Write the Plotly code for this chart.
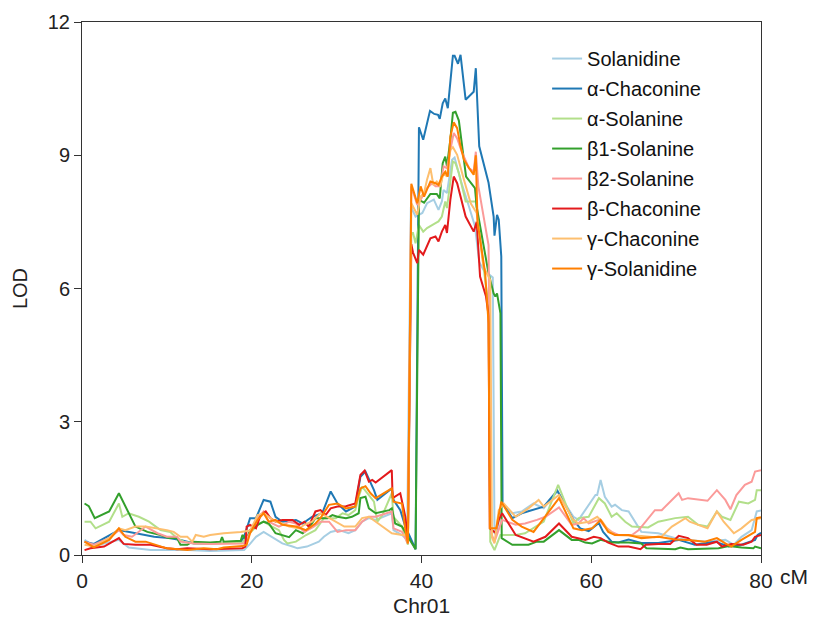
import plotly.graph_objects as go

# ---- data: (cM, LOD) pairs ----
solanidine = [(0.3,0.34),(1.4,0.20),(4.35,0.34),(5.5,0.17),(8.1,0.11),(10.4,0.11),(12.4,0.11),(15.1,0.09),(19.1,0.11),(19.8,0.25),(20.5,0.41),(21.4,0.52),(22.0,0.45),(22.8,0.34),(23.6,0.26),(24.8,0.19),(25.4,0.15),(26.5,0.19),(27.9,0.30),(28.5,0.41),(29.3,0.52),(30.3,0.56),(31.4,0.49),(32.2,0.56),(33.0,0.75),(33.8,0.83),(34.6,0.79),(36.5,0.94),(36.7,0.56),(37.7,0.45),(38.3,0.34),(38.75,7.84),(39.3,7.62),(40.1,7.70),(40.65,7.92),(41.45,8.00),(42.0,7.77),(42.4,7.96),(42.6,8.22),(43.0,8.15),(43.6,8.90),(43.9,8.95),(44.6,8.45),(45.6,7.84),(46.3,7.40),(46.8,6.60),(47.3,6.42),(48.4,6.25),(48.6,0.50),(48.8,0.45),(49.5,1.16),(50.7,0.94),(51.8,0.98),(53.2,1.16),(54.4,1.05),(56.0,1.43),(57.9,0.86),(58.5,0.79),(59.3,1.01),(60.5,1.35),(60.7,1.35),(61.1,1.69),(61.6,1.31),(62.4,1.09),(62.8,1.13),(63.6,1.01),(64.4,0.98),(65.9,0.52),(67.9,0.49),(69.9,0.38),(71.4,0.34),(73.7,0.30),(75.8,0.34),(76.8,0.23),(77.7,0.41),(78.9,0.56),(79.5,0.98),(80.0,1.00)]

a_chaconine = [(0.3,0.30),(1.4,0.25),(4.35,0.56),(6.5,0.49),(8.5,0.41),(10.2,0.38),(11.6,0.34),(13.2,0.26),(15.1,0.26),(18.7,0.30),(19.1,0.41),(19.8,0.83),(20.5,0.83),(21.4,1.24),(22.2,1.20),(22.8,0.86),(23.6,0.75),(25.2,0.79),(26.0,0.71),(27.1,0.86),(28.3,0.94),(29.3,1.43),(30.1,1.16),(31.1,0.98),(32.2,1.09),(32.8,1.76),(33.4,1.88),(34.4,1.46),(34.8,1.24),(36.5,1.50),(36.7,1.24),(37.5,1.01),(38.1,0.64),(39.3,0.13),(39.7,9.63),(40.2,9.35),(41.0,10.00),(41.5,9.93),(41.95,9.91),(42.15,9.82),(42.5,10.17),(42.8,10.28),(43.1,10.06),(43.7,11.24),(43.9,11.24),(44.3,11.06),(44.6,11.26),(45.2,10.25),(46.15,10.43),(46.4,10.96),(46.8,9.20),(47.9,8.38),(48.5,7.62),(48.6,7.19),(48.9,7.66),(49.1,7.55),(49.4,6.72),(49.55,1.16),(50.7,0.83),(51.8,0.94),(53.6,1.05),(54.4,1.09),(56.0,1.45),(57.9,0.79),(58.7,0.60),(59.7,0.54),(60.9,0.72),(61.4,0.52),(62.4,0.30),(63.2,0.28),(64.4,0.35),(65.9,0.27),(67.9,0.27),(70.3,0.34),(72.2,0.23),(74.6,0.30),(76.2,0.19),(77.7,0.23),(79.3,0.34),(79.6,0.45),(80.0,0.50)]

a_solanine = [(0.3,0.75),(1.0,0.75),(1.6,0.60),(3.2,0.75),(4.35,1.16),(4.75,0.86),(5.5,0.94),(6.7,0.86),(7.9,0.75),(9.25,0.56),(10.4,0.52),(11.2,0.38),(12.0,0.30),(13.2,0.26),(18.9,0.28),(19.4,0.41),(19.8,0.50),(20.9,0.71),(21.4,0.75),(22.4,0.64),(23.2,0.56),(23.8,0.34),(24.2,0.26),(25.2,0.30),(26.4,0.45),(27.5,0.56),(28.5,0.83),(29.9,0.83),(30.7,0.94),(31.4,0.90),(32.2,1.01),(32.6,1.31),(33.0,1.54),(33.8,1.35),(34.4,1.20),(34.8,0.75),(35.4,0.90),(36.5,1.39),(36.7,0.86),(37.7,0.64),(38.4,0.23),(38.8,7.25),(39.0,7.25),(39.3,7.02),(39.7,7.43),(40.2,7.28),(40.65,7.36),(41.65,7.47),(42.0,7.51),(42.4,7.62),(42.8,7.96),(43.0,7.81),(43.4,8.48),(43.7,8.86),(44.0,8.82),(44.4,8.60),(45.2,7.96),(46.4,7.96),(47.5,6.19),(47.9,5.59),(48.1,0.30),(48.6,0.11),(49.3,0.45),(51.1,0.45),(52.2,0.49),(53.4,0.64),(54.4,0.75),(56.1,1.58),(57.9,0.71),(58.5,0.83),(59.7,0.86),(60.9,1.28),(61.6,1.16),(62.4,0.86),(63.0,0.94),(64.0,0.75),(64.8,0.64),(66.7,0.62),(67.9,0.75),(69.9,0.83),(71.4,0.86),(72.6,0.68),(73.7,0.64),(74.8,0.98),(75.4,0.86),(76.4,0.79),(77.4,1.20),(78.5,1.16),(79.3,1.24),(79.5,1.46),(80.0,1.46)]

b1_solanine = [(0.3,1.16),(0.8,1.10),(1.5,0.83),(3.2,0.98),(4.35,1.39),(5.5,0.94),(6.3,0.64),(7.7,0.52),(9.25,0.45),(10.2,0.38),(11.2,0.38),(11.6,0.23),(12.4,0.23),(13.0,0.30),(15.1,0.28),(16.3,0.30),(16.5,0.40),(16.7,0.30),(18.7,0.32),(18.9,0.45),(19.4,0.34),(19.8,0.56),(20.7,0.68),(21.4,0.75),(22.0,0.71),(22.8,0.49),(23.6,0.45),(24.4,0.40),(25.2,0.56),(26.0,0.49),(26.7,0.60),(27.5,0.83),(28.9,0.83),(29.5,0.90),(30.1,0.86),(31.1,0.83),(31.8,0.86),(32.6,0.94),(32.8,1.28),(33.4,1.31),(33.8,1.05),(34.6,0.94),(36.2,1.01),(36.5,1.05),(36.9,0.71),(37.7,0.64),(38.5,0.38),(39.3,0.13),(39.7,8.00),(40.3,7.93),(41.05,8.13),(41.8,8.13),(42.15,8.03),(42.5,8.82),(42.8,8.97),(43.0,8.75),(43.4,9.35),(43.7,9.96),(44.0,9.98),(44.4,9.78),(45.25,8.52),(46.3,8.26),(46.5,7.84),(47.3,6.94),(47.9,6.34),(48.5,5.89),(48.7,5.82),(48.9,5.89),(49.3,5.44),(49.45,0.38),(50.7,0.23),(52.6,0.23),(53.6,0.30),(54.4,0.30),(56.2,0.56),(57.7,0.34),(58.5,0.34),(59.3,0.28),(60.1,0.26),(61.1,0.34),(62.4,0.28),(64.4,0.28),(65.9,0.26),(66.5,0.15),(69.9,0.13),(70.5,0.17),(71.4,0.13),(75.0,0.15),(76.2,0.20),(77.7,0.17),(79.1,0.15),(79.3,0.19),(80.0,0.15)]

b2_solanine = [(0.3,0.30),(1.4,0.23),(3.2,0.38),(4.35,0.56),(4.9,0.45),(5.9,0.41),(7.5,0.64),(8.9,0.49),(10.0,0.41),(11.2,0.41),(11.6,0.30),(13.2,0.26),(15.1,0.25),(19.1,0.26),(19.8,0.50),(20.7,0.83),(21.4,0.98),(22.0,0.75),(23.2,0.64),(24.4,0.75),(25.2,0.71),(26.2,0.52),(27.3,0.64),(28.1,0.75),(29.1,0.75),(30.1,0.52),(31.1,0.56),(32.2,0.56),(33.0,0.75),(33.8,0.86),(34.6,0.86),(36.5,0.98),(36.7,0.60),(37.7,0.52),(38.4,0.26),(38.8,8.30),(39.5,7.88),(39.9,8.00),(40.65,8.26),(41.25,8.37),(41.65,8.30),(42.2,8.30),(42.6,8.75),(43.0,8.71),(43.4,9.12),(43.8,9.50),(44.2,9.38),(44.8,9.05),(45.6,8.71),(46.15,8.63),(46.4,9.08),(46.7,8.30),(47.9,6.98),(48.2,0.50),(48.6,0.30),(49.1,0.60),(49.5,0.79),(51.1,0.68),(52.2,0.71),(53.6,0.79),(54.6,0.86),(56.2,1.07),(57.7,0.68),(58.5,0.71),(59.1,0.83),(59.7,0.71),(60.9,0.79),(61.6,0.64),(62.4,0.52),(63.2,0.45),(64.8,0.45),(65.6,0.56),(66.4,0.75),(67.5,1.01),(68.3,1.01),(69.1,1.16),(70.3,1.39),(70.7,1.24),(71.4,1.28),(73.7,1.22),(74.8,1.46),(75.8,1.24),(76.4,1.03),(77.1,1.35),(78.1,1.58),(78.9,1.65),(79.1,1.76),(79.3,1.88),(80.0,1.91)]

b_chaconine = [(0.3,0.11),(1.0,0.15),(2.6,0.19),(4.35,0.38),(4.9,0.25),(6.3,0.23),(8.1,0.23),(9.25,0.19),(10.0,0.15),(11.2,0.13),(12.4,0.15),(15.1,0.13),(18.9,0.15),(19.25,0.19),(19.4,0.64),(19.8,0.68),(20.5,0.60),(21.05,0.90),(21.65,0.98),(22.2,0.83),(22.8,0.75),(23.6,0.79),(24.8,0.79),(25.6,0.68),(26.2,0.75),(26.7,0.64),(27.5,0.98),(28.1,1.01),(28.7,0.90),(29.3,1.05),(30.1,1.09),(31.1,1.10),(32.2,1.16),(32.8,1.80),(33.3,1.90),(33.8,1.65),(34.2,1.69),(34.6,1.63),(36.5,1.91),(36.6,1.28),(37.5,1.39),(38.1,0.86),(38.4,0.34),(38.8,7.00),(39.0,6.81),(39.5,6.57),(39.7,6.87),(40.2,6.76),(41.05,7.13),(41.65,7.17),(42.0,7.06),(42.4,7.28),(42.8,7.43),(43.0,7.25),(43.4,8.00),(43.8,8.52),(44.2,8.37),(45.2,7.62),(46.15,7.28),(46.5,7.50),(46.9,6.27),(47.6,5.82),(47.9,5.40),(48.05,0.60),(48.7,0.50),(49.1,0.79),(49.5,0.94),(51.1,0.45),(53.2,0.30),(54.6,0.41),(56.2,0.71),(57.7,0.41),(58.5,0.38),(59.3,0.34),(60.3,0.41),(61.1,0.38),(62.0,0.28),(63.2,0.19),(64.4,0.19),(65.8,0.13),(66.4,0.23),(67.9,0.25),(69.3,0.25),(70.3,0.43),(71.4,0.38),(72.4,0.23),(73.6,0.23),(74.8,0.30),(75.4,0.19),(76.5,0.25),(77.9,0.23),(78.9,0.30),(79.3,0.41),(80.0,0.45)]

g_chaconine = [(0.3,0.23),(1.4,0.19),(3.2,0.38),(4.35,0.60),(5.1,0.56),(6.3,0.64),(7.5,0.64),(8.9,0.60),(10.0,0.56),(10.8,0.52),(11.6,0.41),(12.4,0.41),(13.0,0.30),(13.4,0.45),(14.35,0.41),(15.1,0.45),(16.7,0.49),(18.7,0.52),(19.8,0.55),(20.7,0.90),(21.4,0.94),(22.0,0.86),(22.8,0.75),(23.6,0.71),(24.4,0.64),(25.6,0.60),(26.2,0.68),(27.1,0.75),(28.1,0.94),(28.9,0.86),(29.9,0.75),(30.9,0.64),(32.2,0.64),(33.0,0.83),(33.8,0.86),(34.6,0.75),(36.5,0.49),(37.7,0.45),(38.4,0.45),(38.8,7.92),(39.5,7.66),(39.9,8.07),(40.3,8.15),(40.65,8.45),(41.05,8.71),(41.4,8.33),(41.8,8.41),(42.2,8.30),(42.6,8.60),(43.0,8.52),(43.4,9.12),(43.7,9.18),(44.2,9.01),(45.0,8.45),(45.8,7.92),(46.5,7.70),(47.3,6.49),(48.1,6.19),(48.3,0.40),(48.6,0.26),(49.1,1.01),(49.7,1.16),(51.1,0.86),(52.6,1.05),(53.8,1.24),(54.4,1.09),(56.2,1.35),(57.9,0.79),(58.5,0.71),(59.7,0.75),(60.7,0.86),(61.3,0.75),(62.0,0.56),(62.8,0.45),(64.4,0.44),(65.9,0.43),(67.5,0.40),(68.3,0.42),(69.5,0.64),(71.1,0.83),(71.6,0.75),(73.0,0.64),(73.7,0.60),(74.8,0.98),(75.6,0.75),(76.8,0.49),(77.7,0.60),(78.9,0.79),(80.0,0.83)]

g_solanidine = [(0.3,0.30),(1.4,0.17),(3.2,0.34),(4.35,0.60),(5.1,0.41),(6.3,0.30),(7.5,0.30),(9.05,0.20),(10.0,0.15),(12.4,0.11),(14.35,0.15),(15.9,0.13),(16.7,0.17),(18.9,0.20),(19.4,0.23),(19.8,0.49),(20.7,0.79),(21.4,0.94),(22.0,0.75),(22.8,0.79),(23.6,0.68),(25.2,0.64),(26.4,0.56),(27.5,0.71),(28.1,0.83),(29.1,1.13),(30.1,1.16),(31.1,1.05),(32.2,1.09),(32.8,1.50),(33.4,1.55),(34.0,1.39),(34.6,1.28),(36.5,1.50),(36.7,1.20),(37.7,1.16),(38.1,0.56),(38.4,0.26),(38.8,8.36),(39.5,7.92),(39.9,8.30),(40.3,8.07),(41.05,8.41),(41.65,8.37),(42.0,8.33),(42.4,8.52),(42.8,8.63),(43.1,8.52),(43.4,9.42),(43.8,9.74),(44.2,9.61),(44.6,9.20),(45.0,8.90),(45.6,8.71),(46.15,8.56),(46.4,9.00),(46.6,7.50),(47.5,6.34),(47.9,5.22),(48.05,0.60),(48.8,0.60),(49.4,1.20),(50.7,0.79),(51.8,0.64),(53.2,0.52),(56.2,1.28),(57.9,0.60),(58.9,0.56),(60.1,0.60),(61.1,0.79),(62.0,0.52),(62.8,0.45),(64.4,0.45),(65.9,0.38),(67.9,0.41),(69.9,0.35),(71.4,0.34),(73.4,0.30),(74.8,0.38),(75.8,0.26),(76.5,0.19),(77.7,0.34),(78.9,0.49),(79.3,0.52),(79.5,0.83),(80.0,0.85)]

series_names = ["Solanidine", "α-Chaconine", "α-Solanine", "β1-Solanine",
                "β2-Solanine", "β-Chaconine", "γ-Chaconine", "γ-Solanidine"]
series_data = [solanidine, a_chaconine, a_solanine, b1_solanine,
               b2_solanine, b_chaconine, g_chaconine, g_solanidine]
series_colors = ["#a6cee3", "#1f78b4", "#b2df8a", "#33a02c",
                 "#fb9a99", "#e31a1c", "#fdbf6f", "#ff7f00"]

x_tickvals = [0, 20, 40, 60, 80]
x_ticktext = ["0", "20", "40", "60", "80"]
y_tickvals = [0, 3, 6, 9, 12]

fig = go.Figure()
for i, (name, pts, col) in enumerate(zip(series_names, series_data, series_colors)):
    fig.add_trace(go.Scatter(
        x=[p[0] for p in pts], y=[p[1] for p in pts],
        mode="lines", name=name, legendgroup=f"g{i}",
        line=dict(color=col, width=2),
    ))

axis_font = dict(family="Liberation Sans, Arial, sans-serif", size=20, color="#222")
fig.update_layout(
    width=816, height=621,
    margin=dict(l=82, r=55, t=22, b=66, autoexpand=False),
    paper_bgcolor="white", plot_bgcolor="white",
    font=axis_font,
    showlegend=True,
    legend=dict(x=0.685, y=0.968, xanchor="left", yanchor="top",
                font=dict(family="Liberation Sans, Arial, sans-serif", size=20, color="#111"),
                bgcolor="rgba(0,0,0,0)", tracegroupgap=1, itemwidth=30),
    xaxis=dict(range=[0, 80], tickvals=x_tickvals, ticktext=x_ticktext,
               automargin=False,
               showgrid=False, zeroline=False, showline=True, linecolor="#333",
               linewidth=1, mirror=True, ticks="outside", ticklen=7, tickcolor="#333",
               tickfont=dict(family="Liberation Sans, Arial", size=21, color="#222")),
    yaxis=dict(range=[0, 12], tickvals=y_tickvals,
               automargin=False,
               showgrid=False, zeroline=False, showline=True, linecolor="#333",
               linewidth=1, mirror=True, ticks="outside", ticklen=7, tickcolor="#333",
               tickfont=dict(size=20, color="#222"),
               title=dict(text="LOD", standoff=14, font=dict(size=20, color="#222"))),
)
fig.add_annotation(x=0.5, y=-0.094, xref="paper", yref="paper", text="Chr01",
                   showarrow=False, xanchor="center", yanchor="middle",
                   font=dict(family="Liberation Sans, Arial", size=21, color="#222"))
fig.add_annotation(x=80, y=0, xref="x", yref="y", text="cM", showarrow=False,
                   xanchor="left", yanchor="top", xshift=17, yshift=-8,
                   font=dict(family="Liberation Sans, Arial", size=21, color="#222"))

fig.write_html("out.html")
